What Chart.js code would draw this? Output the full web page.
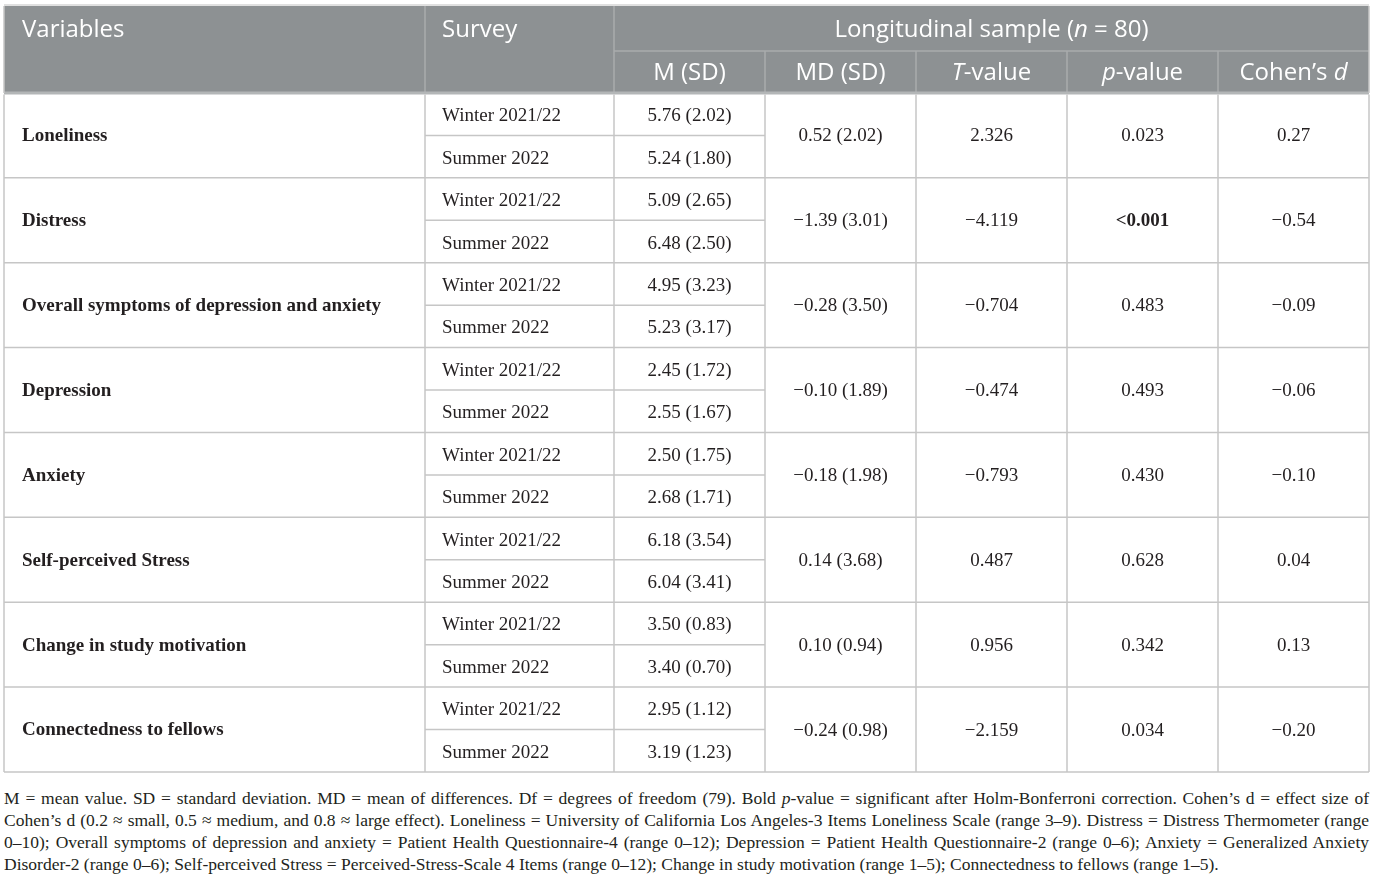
<!DOCTYPE html>
<html>
<head>
<meta charset="utf-8">
<title>Longitudinal sample</title>
<script src="https://cdn.jsdelivr.net/npm/chart.js@4.4.1/dist/chart.umd.min.js"></script>
<style>
  html, body { margin: 0; padding: 0; background: #fff; }
  #wrap { position: relative; width: 1375px; height: 780px; }
  #note {
    margin: 7px 6px 0 4px;
    font-family: "Liberation Serif", "DejaVu Serif", serif;
    font-size: 17.5px;
    line-height: 22px;
    color: #231f20;
  }
  #note div { text-align: justify; text-align-last: justify; white-space: nowrap; }
  #note div.last { text-align-last: left; }
</style>
</head>
<body>
<div id="wrap"><canvas id="tableChart" width="1375" height="780"></canvas></div>
<div id="note">
  <div>M = mean value. SD = standard deviation. MD = mean of differences. Df = degrees of freedom (79). Bold <i>p</i>-value = significant after Holm-Bonferroni correction. Cohen’s d = effect size of</div>
  <div>Cohen’s d (0.2 ≈ small, 0.5 ≈ medium, and 0.8 ≈ large effect). Loneliness = University of California Los Angeles-3 Items Loneliness Scale (range 3–9). Distress = Distress Thermometer (range</div>
  <div>0–10); Overall symptoms of depression and anxiety = Patient Health Questionnaire-4 (range 0–12); Depression = Patient Health Questionnaire-2 (range 0–6); Anxiety = Generalized Anxiety</div>
  <div class="last">Disorder-2 (range 0–6); Self-perceived Stress = Perceived-Stress-Scale 4 Items (range 0–12); Change in study motivation (range 1–5); Connectedness to fellows (range 1–5).</div>
</div>
<script>
// table data
const variables = ['Loneliness', 'Distress', 'Overall symptoms of depression and anxiety', 'Depression',
  'Anxiety', 'Self-perceived Stress', 'Change in study motivation', 'Connectedness to fellows'];
const surveys = ['Winter 2021/22', 'Summer 2022'];
const winterMean = [5.76, 5.09, 4.95, 2.45, 2.50, 6.18, 3.50, 2.95];
const winterSD   = [2.02, 2.65, 3.23, 1.72, 1.75, 3.54, 0.83, 1.12];
const summerMean = [5.24, 6.48, 5.23, 2.55, 2.68, 6.04, 3.40, 3.19];
const summerSD   = [1.80, 2.50, 3.17, 1.67, 1.71, 3.41, 0.70, 1.23];
const mdMean = [0.52, -1.39, -0.28, -0.10, -0.18, 0.14, 0.10, -0.24];
const mdSD   = [2.02, 3.01, 3.50, 1.89, 1.98, 3.68, 0.94, 0.98];
const tValues = [2.326, -4.119, -0.704, -0.474, -0.793, 0.487, 0.956, -2.159];
const pValues = ['0.023', '<0.001', '0.483', '0.493', '0.430', '0.628', '0.342', '0.034'];
const cohensD = [0.27, -0.54, -0.09, -0.06, -0.10, 0.04, 0.13, -0.20];

// column edges in x-scale units (layout)
const colEdges = [0, 421, 610, 761, 912, 1063, 1214, 1365];
// header height in row units
const HEAD = 1.025;

const HEAD_BG = '#8d9193';
const LINE = '#c6c6c6';
const TEXT = '#231f20';
const SANS = '"Open Sans", "Noto Sans", sans-serif';
const SERIF = '"Liberation Serif", "DejaVu Serif", serif';

function fmt(v, d) {
  return (v < 0 ? '\u2212' : '') + Math.abs(v).toFixed(d);
}

// draws text made of plain/italic parts
function richText(ctx, parts, x, y, align, size) {
  let total = 0;
  parts.forEach(p => {
    ctx.font = (p.i ? 'italic ' : '') + size + 'px ' + SANS;
    p.w = ctx.measureText(p.t).width;
    total += p.w;
  });
  let cx = align === 'center' ? x - total / 2 : x;
  ctx.textAlign = 'left';
  parts.forEach(p => {
    ctx.font = (p.i ? 'italic ' : '') + size + 'px ' + SANS;
    ctx.fillText(p.t, cx, y);
    cx += p.w;
  });
}

const tablePlugin = {
  id: 'tablePlugin',
  afterDraw(chart) {
    const ctx = chart.ctx;
    const xs = chart.scales.x, ys = chart.scales.y;
    const X = v => xs.getPixelForValue(v);
    const Y = v => ys.getPixelForValue(v);
    const ex = colEdges.map(X);
    const mid = c => (ex[c] + ex[c + 1]) / 2;
    const top = Y(-HEAD), headBottom = Y(0), bottom = Y(variables.length);
    const headSplit = Y(-HEAD + 0.53);

    ctx.save();
    // header background
    ctx.fillStyle = HEAD_BG;
    ctx.fillRect(ex[0], top, ex[7] - ex[0], headBottom - top);

    // top border
    ctx.strokeStyle = '#d6d6d6';
    ctx.lineWidth = 1.5;
    ctx.beginPath();
    ctx.moveTo(ex[0], top - 1); ctx.lineTo(ex[7], top - 1);
    ctx.stroke();

    // header grid
    ctx.strokeStyle = '#a9acad';
    ctx.lineWidth = 1.5;
    ctx.beginPath();
    [1, 2].forEach(c => { ctx.moveTo(ex[c], top); ctx.lineTo(ex[c], headBottom); });
    [3, 4, 5, 6].forEach(c => { ctx.moveTo(ex[c], headSplit); ctx.lineTo(ex[c], headBottom); });
    ctx.moveTo(ex[2], headSplit); ctx.lineTo(ex[7], headSplit);
    ctx.stroke();
    ctx.strokeStyle = '#b3b6b7';
    ctx.lineWidth = 3;
    ctx.beginPath();
    ctx.moveTo(ex[0], headBottom); ctx.lineTo(ex[7], headBottom);
    ctx.stroke();

    // body grid
    ctx.strokeStyle = LINE;
    ctx.lineWidth = 1.5;
    ctx.beginPath();
    ex.forEach(px => { ctx.moveTo(px, headBottom + 1.5); ctx.lineTo(px, bottom); });
    ctx.moveTo(ex[0], top); ctx.lineTo(ex[0], headBottom);
    ctx.moveTo(ex[7], top); ctx.lineTo(ex[7], headBottom);
    variables.forEach((v, i) => {
      const yb = Y(i + 1);
      ctx.moveTo(ex[0], yb); ctx.lineTo(ex[7], yb);
      const ym = Y(i + 0.5);
      ctx.moveTo(ex[1], ym); ctx.lineTo(ex[3], ym);
    });
    ctx.stroke();

    // header text
    ctx.fillStyle = '#ffffff';
    ctx.textBaseline = 'middle';
    const h1 = (top + headSplit) / 2 + 2, h2 = (headSplit + headBottom) / 2 + 1;
    richText(ctx, [{ t: 'Variables' }], ex[0] + 18, h1, 'left', 24);
    richText(ctx, [{ t: 'Survey' }], ex[1] + 17, h1, 'left', 24);
    richText(ctx, [{ t: 'Longitudinal sample (' }, { t: 'n', i: true }, { t: ' = 80)' }],
      (ex[2] + ex[7]) / 2, h1, 'center', 24);
    richText(ctx, [{ t: 'M (SD)' }], mid(2), h2, 'center', 24);
    richText(ctx, [{ t: 'MD (SD)' }], mid(3), h2, 'center', 24);
    richText(ctx, [{ t: 'T', i: true }, { t: '-value' }], mid(4), h2, 'center', 24);
    richText(ctx, [{ t: 'p', i: true }, { t: '-value' }], mid(5), h2, 'center', 24);
    richText(ctx, [{ t: 'Cohen’s ' }, { t: 'd', i: true }], mid(6), h2, 'center', 24);

    // body text
    ctx.fillStyle = TEXT;
    variables.forEach((name, i) => {
      const yw = Y(i + 0.25) + 2, ys2 = Y(i + 0.75) + 2, yc = Y(i + 0.5) + 1;
      ctx.font = 'bold 19px ' + SERIF;
      ctx.textAlign = 'left';
      ctx.fillText(name, ex[0] + 18, yc);
      ctx.font = '19px ' + SERIF;
      ctx.fillText(surveys[0], ex[1] + 17, yw);
      ctx.fillText(surveys[1], ex[1] + 17, ys2);
      ctx.textAlign = 'center';
      ctx.fillText(fmt(winterMean[i], 2) + ' (' + fmt(winterSD[i], 2) + ')', mid(2), yw);
      ctx.fillText(fmt(summerMean[i], 2) + ' (' + fmt(summerSD[i], 2) + ')', mid(2), ys2);
      ctx.fillText(fmt(mdMean[i], 2) + ' (' + fmt(mdSD[i], 2) + ')', mid(3), yc);
      ctx.fillText(fmt(tValues[i], 3), mid(4), yc);
      ctx.font = (pValues[i].charAt(0) === '<' ? 'bold ' : '') + '19px ' + SERIF;
      ctx.fillText(pValues[i], mid(5), yc);
      ctx.font = '19px ' + SERIF;
      ctx.fillText(fmt(cohensD[i], 2), mid(6), yc);
    });
    ctx.restore();
  }
};

function build() {
  new Chart(document.getElementById('tableChart'), {
    type: 'scatter',
    data: { datasets: [] },
    options: {
      responsive: false,
      animation: false,
      events: [],
      layout: { padding: { left: 4, right: 6, top: 6, bottom: 8 } },
      plugins: { legend: { display: false }, tooltip: { enabled: false } },
      scales: {
        x: { type: 'linear', min: 0, max: 1365, display: false },
        y: { type: 'linear', min: -HEAD, max: variables.length, reverse: true, display: false }
      }
    },
    plugins: [tablePlugin]
  });
}

Promise.all([
  document.fonts.load('24px "Open Sans"'),
  document.fonts.load('italic 24px "Open Sans"'),
  document.fonts.load('19px "Liberation Serif"'),
  document.fonts.load('bold 19px "Liberation Serif"')
]).then(build, build);
</script>
</body>
</html>
